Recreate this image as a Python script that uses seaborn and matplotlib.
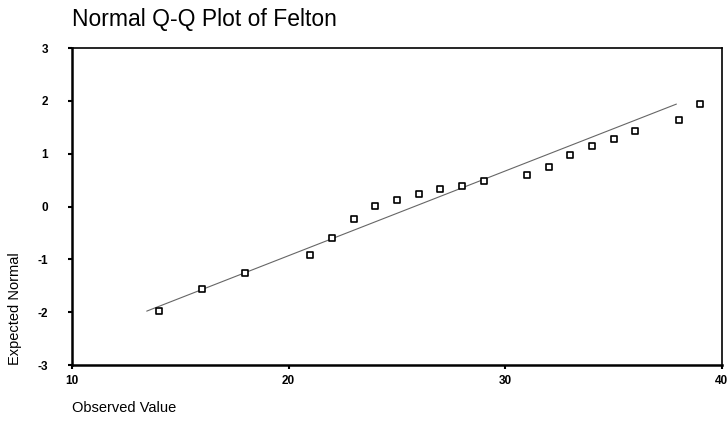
import matplotlib
matplotlib.use('Agg')
import matplotlib.pyplot as plt
import seaborn as sns
import pandas as pd
import numpy as np

observed = [14, 16, 18, 21, 22, 23, 24, 25, 26, 27, 28, 29,
            31, 32, 33, 34, 35, 36, 38, 39]
expected = [-1.98, -1.56, -1.26, -0.92, -0.60, -0.24, 0.01, 0.12, 0.24, 0.33,
            0.39, 0.48, 0.60, 0.75, 0.98, 1.15, 1.28, 1.43, 1.64, 1.94]

# reference line: (x - mean) / sd, drawn over the span shown
line_mean = 25.8
line_sd = 6.24
line_span = [13.45, 37.9]

x_ticks = [10, 20, 30, 40]
y_ticks = [-3, -2, -1, 0, 1, 2, 3]

sns.set_style('ticks')
plt.rcParams['font.family'] = ['Liberation Sans', 'DejaVu Sans']
plt.rcParams['axes.unicode_minus'] = False
plt.rcParams['text.color'] = 'black'

df = pd.DataFrame({'observed': observed, 'expected': expected})
line_x = np.array(line_span)
line_df = pd.DataFrame({'x': line_x, 'y': (line_x - line_mean) / line_sd})

fig = plt.figure(figsize=(7.27, 4.25), dpi=100)
ax = fig.add_axes([0.099, 0.141, 0.894, 0.746])

sns.lineplot(data=line_df, x='x', y='y', ax=ax, color='#666666', linewidth=0.8)
sns.scatterplot(data=df, x='observed', y='expected', ax=ax, marker='s', s=20,
                facecolor='white', edgecolor='black', linewidth=1.2, zorder=3)

ax.set_xlim(10, 40)
ax.set_ylim(-3, 3)
ax.set_xticks(x_ticks)
ax.set_yticks(y_ticks)
ax.tick_params(axis='both', length=3, width=1.5, labelsize=8.5, color='black',
               labelcolor='black')
ax.tick_params(axis='y', pad=14)
ax.tick_params(axis='x', pad=4)
for lab in ax.get_xticklabels() + ax.get_yticklabels():
    lab.set_fontweight('bold')
for s in ax.spines.values():
    s.set_color('black')
    s.set_linewidth(1.2)
ax.spines['left'].set_linewidth(1.8)
ax.spines['bottom'].set_linewidth(1.8)
ax.set_xlabel('')
ax.set_ylabel('')

fig.text(0.099, 0.955, 'Normal Q-Q Plot of Felton', fontsize=16.5,
         ha='left', va='center')
fig.text(0.02, 0.141, 'Expected Normal', rotation=90, fontsize=10.5,
         ha='center', va='bottom')
fig.text(0.099, 1 - 408 / 425, 'Observed Value', fontsize=10.5,
         ha='left', va='center')

fig.savefig('out.png', dpi=100)
plt.close(fig)
